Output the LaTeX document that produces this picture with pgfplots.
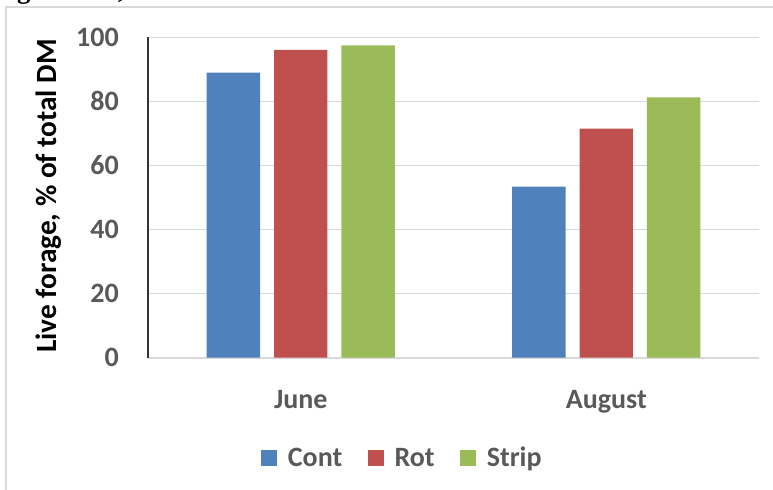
\documentclass[border=0pt]{standalone}
\usepackage{pgfplots}
\pgfplotsset{compat=1.18}
\usepackage{fontspec}
\setmainfont{Carlito}
\newfontfamily\serifbold{Liberation Serif}
\definecolor{cblue}{HTML}{4F81BD}
\definecolor{cred}{HTML}{C0504D}
\definecolor{cgreen}{HTML}{9BBB59}
\definecolor{tgray}{HTML}{595959}
\definecolor{lgrid}{HTML}{D9D9D9}
\begin{document}
\begin{tikzpicture}[x=0.75pt,y=0.75pt]
\path[use as bounding box] (0,0) rectangle (773,489);
\clip (0,0) rectangle (773,489);
\draw[lgrid, line width=1.5pt] (6,-5) -- (6,482) -- (790,482);
\node[anchor=base west, inner sep=0pt, font=\serifbold\bfseries\fontsize{20}{24}\selectfont] at (-1,490.5) {significant, P < 0.20.};
\node[rotate=90, anchor=base, inner sep=0pt, font=\bfseries\fontsize{22}{26}\selectfont] at (56.7,293) {Live forage, \% of total DM};
\begin{axis}[
  at={(111pt,98.625pt)}, anchor=south west,
  width=458.25pt, height=240.15pt, scale only axis,
  ybar, bar width=40.1pt,
  xmin=-0.5, xmax=1.5, ymin=0, ymax=100,
  xtick={0,1}, xticklabels={June,August},
  ytick={0,20,40,60,80,100},
  /pgf/number format/assume math mode=true,
  major tick length=0pt,
  ymajorgrids, grid style={lgrid, line width=1.1pt},
  axis lines*=left,
  x axis line style={lgrid, line width=1.5pt},
  y axis line style={black!80, line width=1pt},
  tick label style={font=\bfseries\fontsize{21}{25}\selectfont, text=tgray},
  yticklabel style={inner sep=0pt, anchor=east, xshift=-21.75pt},
  xticklabel style={inner sep=0pt, anchor=base, yshift=-38.6pt},
  legend columns=3,
  legend style={draw=none, fill=none, at={(0.1845,-0.314)}, anchor=west,
    font=\bfseries\fontsize{21}{25}\selectfont, text=tgray, inner sep=0pt,
    /tikz/every odd column/.append style={column sep=6.2pt},
    /tikz/every even column/.append style={column sep=17pt}},
  legend image code/.code={\fill[#1] (0pt,-6pt) rectangle (12pt,6pt);},
]
\addplot[fill=cblue, draw=none, bar shift=-50.6pt] coordinates {(0,89.0) (1,53.4)};
\addplot[fill=cred, draw=none, bar shift=0pt] coordinates {(0,96.1) (1,71.5)};
\addplot[fill=cgreen, draw=none, bar shift=50.6pt] coordinates {(0,97.5) (1,81.2)};
\legend{Cont,Rot,Strip}
\end{axis}
\end{tikzpicture}
\end{document}
